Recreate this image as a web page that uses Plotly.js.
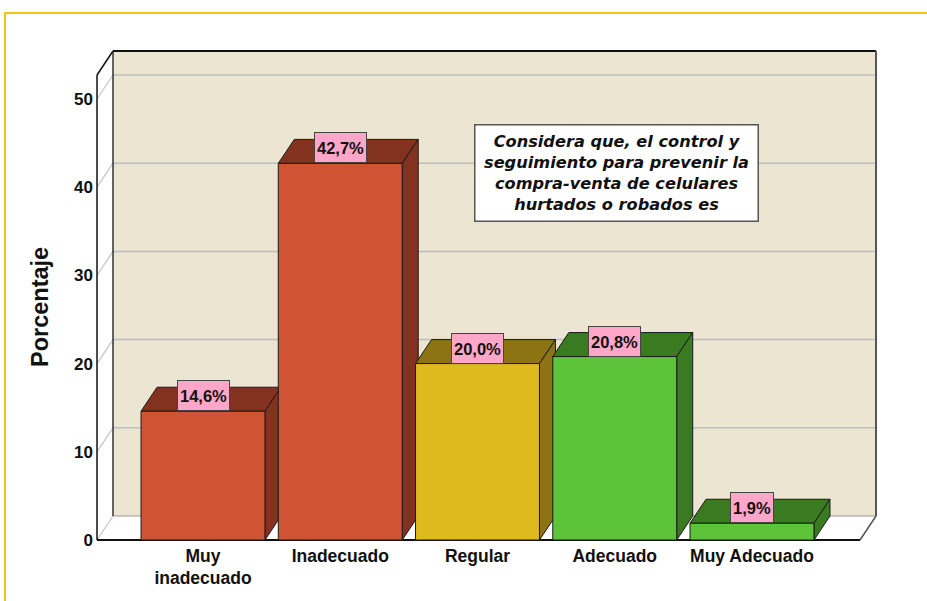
<!DOCTYPE html>
<html>
<head>
<meta charset="utf-8">
<script src="https://cdn.plot.ly/plotly-3.0.1.min.js"></script>
<style>
  html, body { margin: 0; padding: 0; background: #ffffff; }
  #chart { width: 927px; height: 601px; }
</style>
</head>
<body>
<div id="chart"></div>
<script>
// ---- data ----
const categories = ['Muy<br>inadecuado', 'Inadecuado', 'Regular', 'Adecuado', 'Muy Adecuado'];
const values = [14.6, 42.7, 20.0, 20.8, 1.9];
const valueLabels = ['14,6%', '42,7%', '20,0%', '20,8%', '1,9%'];
const yTickValues = [0, 10, 20, 30, 40, 50];
const boxTitle = 'Considera que, el control y<br>seguimiento para prevenir la<br>compra-venta de celulares<br>hurtados o robados es';
const yTitle = 'Porcentaje';

// ---- style ----
const frontColors = ['#D05333', '#D05333', '#DFBA1F', '#5DC338', '#5DC338'];
const shadeColors = ['#833220', '#833220', '#8C7413', '#3A7A21', '#3A7A21'];
const SANS = "'Liberation Sans', Arial, sans-serif";

// geometry (data units)
const barW = 0.903;          // bar width in category units
const dX = 0.1166;           // depth offset, x
const dY = 2.72;             // depth offset, y
const xFront0 = -0.7723;     // front left edge of the box
const xFront1 = 4.787;       // front right edge of the floor
const yFrontTop = 52.72;     // top of front axis line
const xRange = [-0.7942, 4.9253];
const yRange = [-0.34, 55.78];

const traces = [];
values.forEach((v, i) => {
  const l = i - barW / 2, r = i + barW / 2;
  traces.push({
    type: 'scatter', mode: 'lines', fill: 'toself', hoverinfo: 'skip', showlegend: false,
    x: [l, r, r + dX, l + dX, l], y: [v, v, v + dY, v + dY, v],
    fillcolor: shadeColors[i], line: {color: '#1a1a1a', width: 1}
  });
  traces.push({
    type: 'scatter', mode: 'lines', fill: 'toself', hoverinfo: 'skip', showlegend: false,
    x: [r, r + dX, r + dX, r, r], y: [0, dY, v + dY, v, 0],
    fillcolor: shadeColors[i], line: {color: '#1a1a1a', width: 1}
  });
  traces.push({
    type: 'scatter', mode: 'lines', fill: 'toself', hoverinfo: 'skip', showlegend: false,
    x: [l, r, r, l, l], y: [0, 0, v, v, 0],
    fillcolor: frontColors[i], line: {color: '#1a1a1a', width: 1}
  });
});

const shapes = [];
shapes.push({type: 'path', xref: 'paper', yref: 'paper', layer: 'below',
  path: 'M -0.1134,-0.2 L -0.1134,1.0707 L 1.1,1.0707',
  line: {color: '#F7C21C', width: 2}});
shapes.push({type: 'rect', xref: 'x', yref: 'y', layer: 'below',
  x0: xFront0 + dX, x1: xFront1 + dX, y0: dY, y1: yFrontTop + dY,
  fillcolor: '#EBE5D1', line: {width: 0}});
yTickValues.forEach(t => {
  if (t > 0) {
    shapes.push({type: 'line', xref: 'x', yref: 'y', layer: 'below',
      x0: xFront0 + dX, x1: xFront1 + dX, y0: t + dY, y1: t + dY,
      line: {color: '#BDBDBD', width: 1.5}});
  }
  shapes.push({type: 'line', xref: 'x', yref: 'y', layer: 'below',
    x0: xFront0, x1: xFront0 + dX, y0: t, y1: t + dY,
    line: {color: '#C4C4C4', width: 1.2}});
});
shapes.push({type: 'line', xref: 'x', yref: 'y', layer: 'below',
  x0: xFront0 + dX, x1: xFront1 + dX, y0: dY, y1: dY, line: {color: '#9A9A9A', width: 1.2}});
shapes.push({type: 'line', xref: 'x', yref: 'y', layer: 'below',
  x0: xFront1, x1: xFront1 + dX, y0: 0, y1: dY, line: {color: '#555555', width: 1.5}});
shapes.push({type: 'line', xref: 'x', yref: 'y', layer: 'below',
  x0: xFront0 + dX, x1: xFront1 + dX, y0: yFrontTop + dY, y1: yFrontTop + dY, line: {color: '#111111', width: 2}});
shapes.push({type: 'line', xref: 'x', yref: 'y', layer: 'below',
  x0: xFront1 + dX, x1: xFront1 + dX, y0: dY, y1: yFrontTop + dY, line: {color: '#555555', width: 2}});
shapes.push({type: 'line', xref: 'x', yref: 'y', layer: 'below',
  x0: xFront0 + dX, x1: xFront0 + dX, y0: dY, y1: yFrontTop + dY, line: {color: '#333333', width: 1.5}});
shapes.push({type: 'line', xref: 'x', yref: 'y', layer: 'below',
  x0: xFront0, x1: xFront0 + dX, y0: yFrontTop, y1: yFrontTop + dY, line: {color: '#111111', width: 1.5}});
shapes.push({type: 'line', xref: 'x', yref: 'y', layer: 'above',
  x0: xFront0, x1: xFront0, y0: 0, y1: yFrontTop, line: {color: '#111111', width: 1.5}});
shapes.push({type: 'line', xref: 'x', yref: 'y', layer: 'below',
  x0: xFront0, x1: xFront1, y0: 0, y1: 0, line: {color: '#111111', width: 2}});

const annotations = values.map((v, i) => ({
  x: i, y: v, xref: 'x', yref: 'y', xanchor: 'center', yanchor: 'bottom',
  text: valueLabels[i], showarrow: false, height: 25,
  font: {family: SANS, size: 16.5, color: '#111111', weight: 'bold'},
  bgcolor: '#FFA6C9', bordercolor: '#444444', borderwidth: 1, borderpad: 2
}));
annotations.push({
  x: 3.01, y: 41.6, xref: 'x', yref: 'y', xanchor: 'center', yanchor: 'middle',
  text: boxTitle, showarrow: false, align: 'center',
  width: 280, height: 93,
  font: {family: "'DejaVu Sans', sans-serif", size: 16.2, color: '#111111', weight: 'bold', style: 'italic'},
  bgcolor: '#FFFFFF', bordercolor: '#555555', borderwidth: 1.5, borderpad: 1
});
annotations.push({
  x: -0.0688, y: 0.4768, xref: 'paper', yref: 'paper', xanchor: 'center', yanchor: 'middle',
  text: yTitle, showarrow: false, textangle: -90,
  font: {family: SANS, size: 23.5, color: '#111111', weight: 'bold'}
});

const layout = {
  width: 927, height: 601,
  margin: {l: 94, r: 48, t: 48, b: 58},
  paper_bgcolor: '#FFFFFF', plot_bgcolor: 'rgba(0,0,0,0)',
  showlegend: false,
  xaxis: {
    range: xRange, tickvals: [0, 1, 2, 3, 4], ticktext: categories,
    showgrid: false, zeroline: false, showline: false, ticks: '',
    tickfont: {family: SANS, size: 17.5, color: '#111111', weight: 'bold'},
    fixedrange: true
  },
  yaxis: {
    range: yRange, tickvals: yTickValues, ticktext: yTickValues.map(String),
    showgrid: false, zeroline: false, showline: false, ticks: '',
    tickfont: {family: SANS, size: 17, color: '#111111', weight: 'bold'},
    fixedrange: true
  },
  shapes: shapes,
  annotations: annotations
};

Plotly.newPlot('chart', traces, layout, {displayModeBar: false, staticPlot: true});
</script>
</body>
</html>
